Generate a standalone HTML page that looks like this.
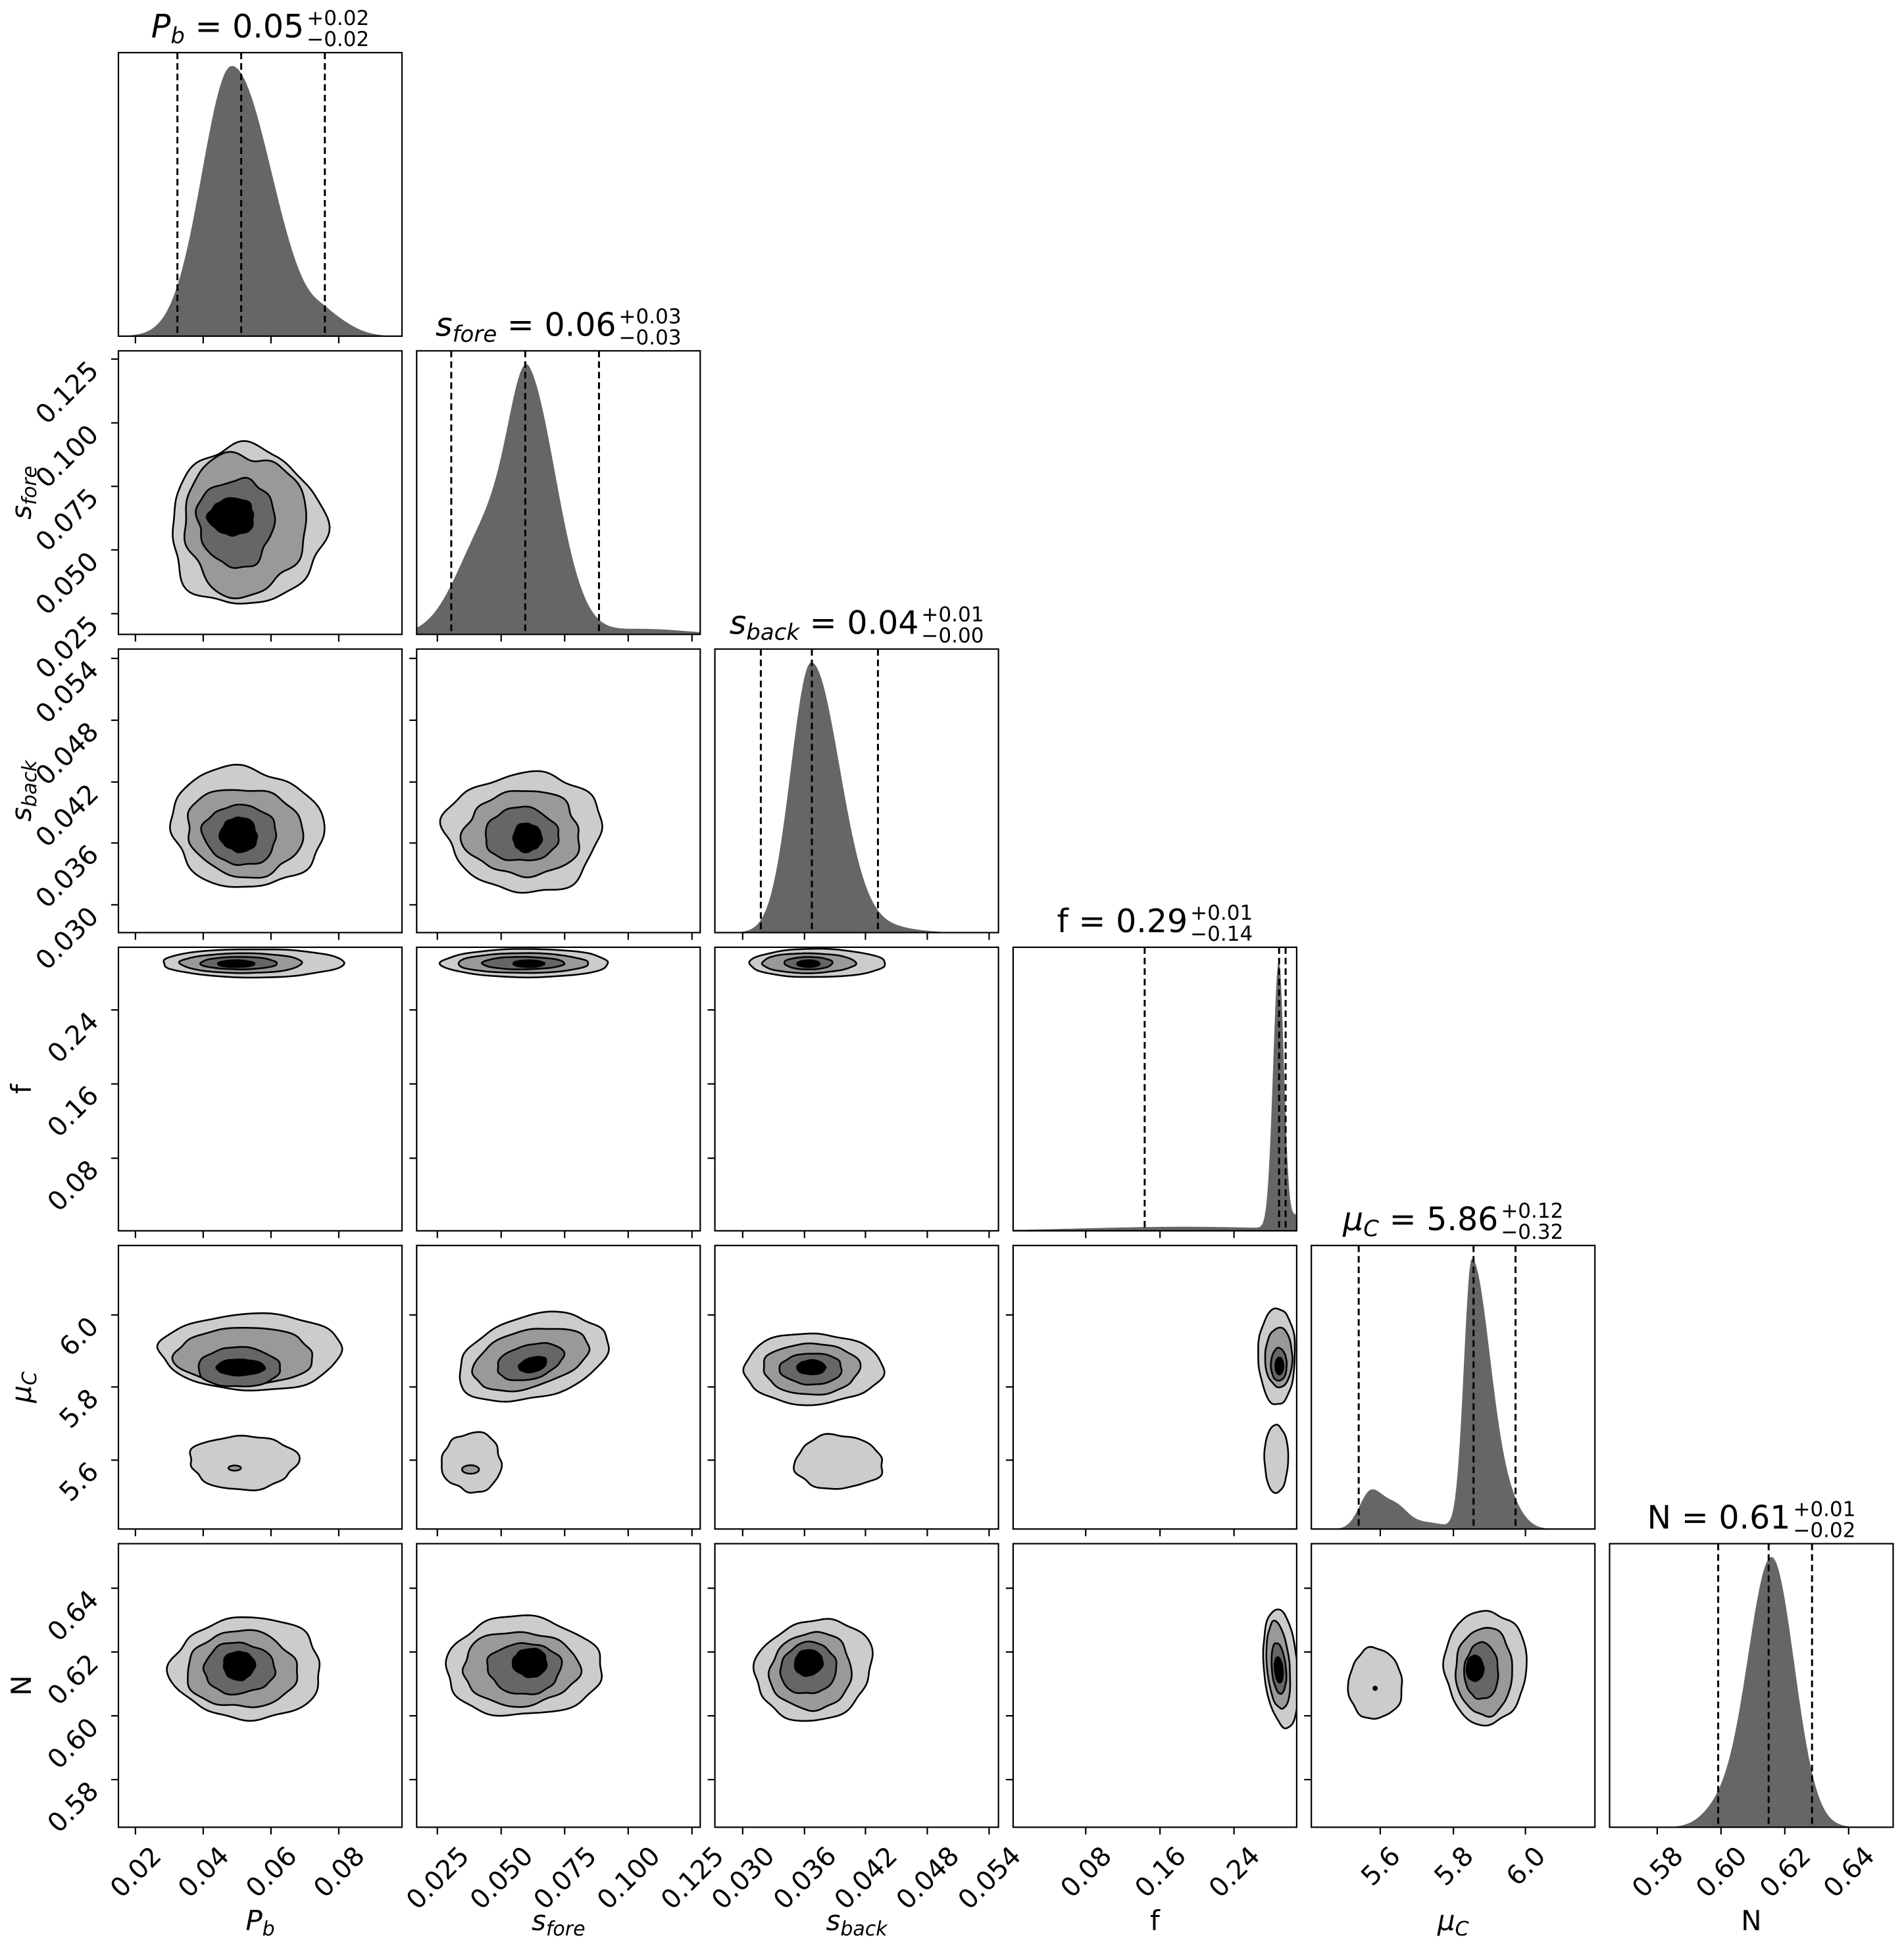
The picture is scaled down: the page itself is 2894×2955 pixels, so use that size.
<!DOCTYPE html>
<html><head><meta charset="utf-8">
<style>
html,body{margin:0;padding:0;background:#fff;}
svg{display:block;}
text{font-family:"DejaVu Sans","Liberation Sans",sans-serif;fill:#000;}
.it{font-style:italic;}
.tk{font-size:40px;}
.tm{font-size:49px;}
.ts{font-size:31px;}
.al{font-size:42px;}
</style></head><body>
<svg id="s" xmlns="http://www.w3.org/2000/svg" width="2894" height="2955" viewBox="0 0 2894 2955">
<rect width="2894" height="2955" fill="#fff"/>
<defs id="defs"></defs>
<g id="plots"></g>
<g id="labels">
<g class="title"><text class="tm"><tspan class="it">P</tspan><tspan class="it" font-size="34" dy="9">b</tspan><tspan dy="-9"> = 0.05</tspan></text><text class="ts">+0.02</text><text class="ts">−0.02</text></g>
<g class="title"><text class="tm"><tspan class="it">s</tspan><tspan class="it" font-size="34" dy="9">fore</tspan><tspan dy="-9"> = 0.06</tspan></text><text class="ts">+0.03</text><text class="ts">−0.03</text></g>
<g class="title"><text class="tm"><tspan class="it">s</tspan><tspan class="it" font-size="34" dy="9">back</tspan><tspan dy="-9"> = 0.04</tspan></text><text class="ts">+0.01</text><text class="ts">−0.00</text></g>
<g class="title"><text class="tm">f = 0.29</text><text class="ts">+0.01</text><text class="ts">−0.14</text></g>
<g class="title"><text class="tm"><tspan class="it">μ</tspan><tspan class="it" font-size="34" dy="9">C</tspan><tspan dy="-9"> = 5.86</tspan></text><text class="ts">+0.12</text><text class="ts">−0.32</text></g>
<g class="title"><text class="tm">N = 0.61</text><text class="ts">+0.01</text><text class="ts">−0.02</text></g>
<text class="tk xt">0.02</text><text class="tk xt">0.04</text><text class="tk xt">0.06</text><text class="tk xt">0.08</text>
<text class="tk xt">0.025</text><text class="tk xt">0.050</text><text class="tk xt">0.075</text><text class="tk xt">0.100</text><text class="tk xt">0.125</text>
<text class="tk xt">0.030</text><text class="tk xt">0.036</text><text class="tk xt">0.042</text><text class="tk xt">0.048</text><text class="tk xt">0.054</text>
<text class="tk xt">0.08</text><text class="tk xt">0.16</text><text class="tk xt">0.24</text>
<text class="tk xt">5.6</text><text class="tk xt">5.8</text><text class="tk xt">6.0</text>
<text class="tk xt">0.58</text><text class="tk xt">0.60</text><text class="tk xt">0.62</text><text class="tk xt">0.64</text>
<text class="tk yt">0.025</text><text class="tk yt">0.050</text><text class="tk yt">0.075</text><text class="tk yt">0.100</text><text class="tk yt">0.125</text>
<text class="tk yt">0.030</text><text class="tk yt">0.036</text><text class="tk yt">0.042</text><text class="tk yt">0.048</text><text class="tk yt">0.054</text>
<text class="tk yt">0.08</text><text class="tk yt">0.16</text><text class="tk yt">0.24</text>
<text class="tk yt">5.6</text><text class="tk yt">5.8</text><text class="tk yt">6.0</text>
<text class="tk yt">0.58</text><text class="tk yt">0.60</text><text class="tk yt">0.62</text><text class="tk yt">0.64</text>
<text class="al xa" text-anchor="middle"><tspan class="it">P</tspan><tspan class="it" font-size="30" dy="8">b</tspan></text>
<text class="al xa" text-anchor="middle"><tspan class="it">s</tspan><tspan class="it" font-size="30" dy="8">fore</tspan></text>
<text class="al xa" text-anchor="middle"><tspan class="it">s</tspan><tspan class="it" font-size="30" dy="8">back</tspan></text>
<text class="al xa" text-anchor="middle">f</text>
<text class="al xa" text-anchor="middle"><tspan class="it">μ</tspan><tspan class="it" font-size="30" dy="8">C</tspan></text>
<text class="al xa" text-anchor="middle">N</text>
<text class="al ya" text-anchor="middle"><tspan class="it">s</tspan><tspan class="it" font-size="30" dy="8">fore</tspan></text>
<text class="al ya" text-anchor="middle"><tspan class="it">s</tspan><tspan class="it" font-size="30" dy="8">back</tspan></text>
<text class="al ya" text-anchor="middle">f</text>
<text class="al ya" text-anchor="middle"><tspan class="it">μ</tspan><tspan class="it" font-size="30" dy="8">C</tspan></text>
<text class="al ya" text-anchor="middle">N</text>
</g>
</svg>
<script>
(function(){
var NS="http://www.w3.org/2000/svg";
var PL=180,PP=453.3,PT=80,PR=453.3,S=431;
function X(c,f){return PL+PP*c+f*S;}
function Y(r,f){return PT+PR*r+f*S;}
var plots=document.getElementById('plots'),defs=document.getElementById('defs');
function el(n,a,p){var e=document.createElementNS(NS,n);for(var k in a)e.setAttribute(k,a[k]);(p||plots).appendChild(e);return e;}
var xf=[[.060,.299,.538,.777],[.073,.298,.522,.746,.971],[.098,.316,.531,.749,.967],[.256,.518,.779],[.243,.501,.755],[.168,.393,.618,.843]];
var COL=['#cccccc','#999999','#666666','#000000'];
function blobPath(r,c,b,seed){
 var cx=b[0],cy=b[1],rx=b[2],ry=b[3],rot=(b[4]||0)*Math.PI/180,amp=(b[5]===undefined?0.05:b[5]);
 var d='',N=120;
 for(var i=0;i<N;i++){
  var t=2*Math.PI*i/N;
  var w=1+amp*(0.5*Math.sin(3*t+seed)+0.35*Math.sin(5*t+seed*2.3)+0.25*Math.sin(8*t+seed*1.7)+0.15*Math.sin(11*t+seed*0.7));
  var x=rx*Math.cos(t)*w,y=ry*Math.sin(t)*w;
  var xr=x*Math.cos(rot)-y*Math.sin(rot),yr=x*Math.sin(rot)+y*Math.cos(rot);
  d+=(i?'L':'M')+X(c,cx+xr).toFixed(1)+','+Y(r,cy+yr).toFixed(1);
 }
 return d+'Z';
}
var B=[
[1,0,[[.45,.62,.27,.28,0,.09,0],[.445,.61,.215,.25,0,.09,1],[.415,.605,.135,.155,0,.1,2],[.40,.585,.08,.065,0,.1,3]]],
[2,0,[[.45,.63,.27,.21,8,.07,0],[.445,.645,.205,.155,8,.07,1],[.43,.655,.13,.105,8,.07,2],[.425,.655,.065,.06,15,.08,3]]],
[2,1,[[.38,.645,.275,.21,0,.09,0],[.375,.65,.205,.15,0,.09,1],[.37,.655,.13,.095,0,.07,2],[.39,.665,.05,.05,0,.08,3]]],
[3,0,[[.475,.056,.32,.05,0,.03,0],[.435,.056,.215,.035,0,.03,1],[.425,.056,.135,.022,0,.03,2],[.415,.058,.065,.012,0,.03,3]]],
[3,1,[[.385,.056,.295,.05,0,.03,0],[.375,.056,.23,.035,0,.03,1],[.375,.056,.145,.022,0,.03,2],[.395,.058,.055,.012,0,.03,3]]],
[3,2,[[.36,.056,.24,.05,0,.03,0],[.33,.056,.165,.035,0,.03,1],[.33,.056,.085,.022,0,.03,2],[.33,.058,.04,.012,0,.03,3]]],
[4,0,[[.47,.375,.32,.135,0,.05,0],[.445,.39,.245,.10,0,.05,1],[.425,.43,.145,.07,0,.05,2],[.43,.43,.085,.028,0,.05,3],[.44,.765,.19,.095,0,.08,0],[.41,.785,.022,.009,0,0,1]]],
[4,1,[[.41,.395,.27,.145,-15,.05,0],[.40,.40,.21,.10,-15,.05,1],[.40,.41,.12,.06,-15,.05,2],[.41,.42,.05,.025,-15,.05,3],[.195,.765,.105,.105,0,.08,0],[.19,.79,.03,.015,0,0,1]]],
[4,2,[[.345,.435,.245,.125,0,.05,0],[.34,.435,.17,.09,0,.05,1],[.34,.435,.11,.055,0,.05,2],[.34,.43,.05,.025,0,.05,3],[.435,.765,.155,.095,0,.08,0]]],
[4,3,[[.93,.39,.065,.17,0,.04,0],[.937,.395,.048,.105,0,.03,1],[.937,.42,.028,.058,0,.03,2],[.939,.425,.014,.03,0,.02,3],[.928,.752,.042,.12,0,.03,0]]],
[5,0,[[.455,.44,.265,.18,0,.07,0],[.435,.445,.195,.135,0,.07,1],[.425,.44,.125,.09,0,.07,2],[.425,.43,.055,.05,0,.07,3]]],
[5,1,[[.375,.435,.275,.175,0,.07,0],[.365,.44,.205,.13,0,.07,1],[.38,.44,.13,.09,0,.07,2],[.40,.42,.06,.05,0,.07,3]]],
[5,2,[[.35,.445,.21,.175,-20,.06,0],[.34,.45,.145,.135,-20,.06,1],[.33,.44,.10,.09,-20,.05,2],[.33,.42,.05,.045,-20,.05,3]]],
[5,3,[[.945,.44,.06,.21,-5,.03,0],[.935,.43,.04,.155,-5,.03,1],[.937,.44,.025,.09,-5,.03,2],[.937,.445,.014,.045,-5,.02,3]]],
[5,4,[[.225,.495,.095,.125,0,.06,0],[.225,.51,.006,.006,0,0,3],[.615,.435,.145,.2,0,.05,0],[.61,.45,.10,.155,0,.05,1],[.60,.45,.06,.10,0,.05,2],[.577,.44,.03,.045,0,.05,3]]]
];
var H=[
 {comp:[[.40,.105,.14,1],[.74,.05,.08,.05]],d:[.208,.433,.728]},
 {comp:[[.40,.07,.10,1],[.26,.11,.11,.5],[.80,.15,.15,.025]],d:[.122,.383,.643]},
 {comp:[[.34,.072,.10,1],[.6,.1,.1,.02]],d:[.162,.342,.575]},
 {comp:[[.937,.02,.018,1],[.6,.35,.35,.015],[1.0,.02,.02,.05]],d:[.464,.938,.961]},
 {comp:[[.566,.028,.065,1],[.70,.05,.05,.06],[.21,.04,.045,.14],[.30,.04,.04,.07],[.40,.07,.07,.025]],d:[.167,.572,.72]},
 {comp:[[.571,.085,.08,1],[.38,.06,.06,.05]],d:[.383,.561,.714]}
];
for(var r=0;r<6;r++)for(var c=0;c<=r;c++){
 var x0=X(c,0),y0=Y(r,0);
 var cp=el('clipPath',{id:'c'+r+c},defs);el('rect',{x:x0,y:y0,width:S,height:S},cp);
 var g=el('g',{'clip-path':'url(#c'+r+c+')'});
 if(r===c){
  var h=H[r],mx=0,vals=[];
  for(var i=0;i<=300;i++){var f=i/300,v=0;h.comp.forEach(function(q){var s=f<q[0]?q[1]:q[2];v+=q[3]*Math.exp(-0.5*Math.pow((f-q[0])/s,2));});vals.push(v);if(v>mx)mx=v;}
  var d='M'+x0+','+(y0+S);
  for(var i=0;i<=300;i++){d+='L'+X(c,i/300).toFixed(1)+','+(y0+S-0.953*S*vals[i]/mx).toFixed(1);}
  d+='L'+(x0+S)+','+(y0+S)+'Z';
  el('path',{d:d,fill:'#666666'},g);
  h.d.forEach(function(f){el('line',{x1:X(c,f),x2:X(c,f),y1:y0,y2:y0+S,stroke:'#000','stroke-width':3,'stroke-dasharray':'10,6'},g);});
 }else{
  B.forEach(function(b){if(b[0]===r&&b[1]===c){b[2].forEach(function(l,k){
   el('path',{d:blobPath(r,c,l,k*1.3+r+c*2),fill:COL[l[6]],stroke:'#000','stroke-width':2.6,'stroke-linejoin':'round'},g);});}});
 }
 el('rect',{x:x0,y:y0,width:S,height:S,fill:'none',stroke:'#000','stroke-width':2.2});
 xf[c].forEach(function(f){el('line',{x1:X(c,f),x2:X(c,f),y1:y0+S,y2:y0+S+11,stroke:'#000','stroke-width':2.2});});
 if(c<r){xf[r].forEach(function(f){el('line',{x1:x0-11,x2:x0,y1:Y(r,1-f),y2:Y(r,1-f),stroke:'#000','stroke-width':2.2});});}
}
var tg=document.querySelectorAll('.title');
for(var i=0;i<6;i++){
 var t=tg[i].children,cx=X(i,0.5),by=Y(i,0)-23;
 var w1=t[0].getComputedTextLength(),w2=Math.max(t[1].getComputedTextLength(),t[2].getComputedTextLength());
 var sx=cx-(w1+w2+4)/2;
 t[0].setAttribute('x',sx);t[0].setAttribute('y',by);
 t[1].setAttribute('x',sx+w1+4);t[1].setAttribute('y',by-19);
 t[2].setAttribute('x',sx+w1+4);t[2].setAttribute('y',by+13);
}
var xt=document.querySelectorAll('.xt'),k=0,bot=Y(5,1);
for(var c=0;c<6;c++)xf[c].forEach(function(f){
 var e=xt[k++],L=e.getComputedTextLength(),h=0.707*L+20,cx=X(c,f),cy=bot+26+h/2;
 e.setAttribute('x',cx);e.setAttribute('y',cy);e.setAttribute('text-anchor','middle');e.setAttribute('dy','0.36em');
 e.setAttribute('transform','rotate(-45 '+cx+' '+cy+')');
});
var yt=document.querySelectorAll('.yt');k=0;
for(var r=1;r<6;r++)xf[r].forEach(function(f){
 var e=yt[k++],xe=PL-28,ye=Y(r,1-f)+20;
 e.setAttribute('x',xe);e.setAttribute('y',ye);e.setAttribute('text-anchor','end');
 e.setAttribute('transform','rotate(-45 '+xe+' '+ye+')');
});
var xa=document.querySelectorAll('.xa');
for(var c=0;c<6;c++){xa[c].setAttribute('x',X(c,.5));xa[c].setAttribute('y',2934);}
var ya=document.querySelectorAll('.ya');
for(var r=1;r<6;r++){var e=ya[r-1],yc=Y(r,.5);e.setAttribute('x',47);e.setAttribute('y',yc);e.setAttribute('transform','rotate(-90 47 '+yc+')');}
})();
</script>
</body></html>
